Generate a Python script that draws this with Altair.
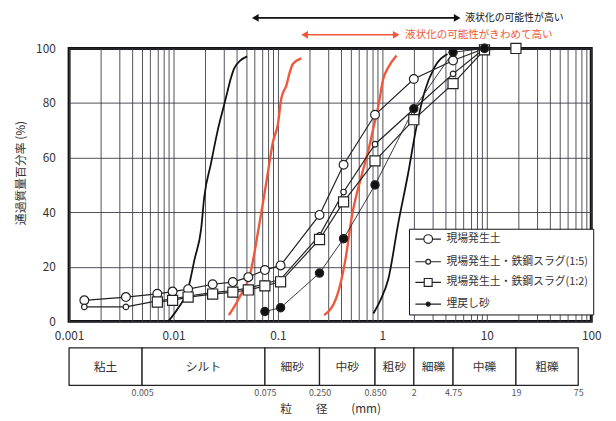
import altair as alt
import pandas as pd

# ---------------- data ----------------
SERIES = ["現場発生土", "現場発生土・鉄鋼スラグ(1:5)", "現場発生土・鉄鋼スラグ(1:2)", "埋戻し砂"]

d1 = [0.0014, 0.0035, 0.007, 0.0098, 0.0138, 0.0237, 0.037, 0.052, 0.075, 0.106, 0.25, 0.425, 0.85, 2.0, 4.75, 9.5]
p1 = [7.7, 8.9, 10.1, 10.9, 11.8, 13.6, 14.4, 16.2, 18.8, 20.5, 39.0, 57.4, 75.7, 88.8, 95.6, 100]

d2 = [0.0014, 0.0035, 0.007, 0.0098, 0.0138, 0.0237, 0.037, 0.052, 0.075, 0.106, 0.25, 0.425, 0.85, 2.0, 4.75, 9.5]
p2 = [5.3, 5.3, 7.5, 8.2, 9.3, 10.5, 11.3, 12.2, 13.8, 15.4, 31.5, 47.4, 64.9, 77.8, 90.7, 100]

d3 = [0.007, 0.0098, 0.0138, 0.0237, 0.037, 0.052, 0.075, 0.106, 0.25, 0.425, 0.85, 2.0, 4.75, 9.5, 19.0]
p3 = [7.1, 7.7, 8.9, 10.0, 10.7, 11.5, 13.0, 14.5, 30.0, 43.8, 58.8, 73.9, 87.1, 99.5, 100]

d4 = [0.075, 0.106, 0.25, 0.425, 0.85, 2.0, 4.75, 9.5]
p4 = [3.6, 5.0, 17.7, 30.3, 50.0, 77.9, 98.6, 100]

# liquefaction boundary curves
bl_d = [0.0089, 0.0110, 0.0138, 0.0159, 0.0184, 0.0197, 0.0228, 0.0264, 0.0305, 0.0328, 0.0353, 0.0379, 0.0438, 0.0507]
bl_p = [0, 4.7, 11.9, 22.7, 34.0, 45.6, 57.7, 69.7, 79.3, 84.1, 88.9, 92.5, 95.6, 97.1]
br_d = [0.82, 0.95, 1.14, 1.42, 1.76, 2.11, 2.53, 3.14, 4.2]
br_p = [2.9, 7.5, 15.5, 36.0, 54.0, 70.9, 84.0, 93.0, 98.0]
rl_d = [0.0339, 0.0438, 0.0546, 0.0650, 0.0779, 0.0900, 0.0997, 0.1077, 0.1205, 0.1298, 0.139, 0.1675]
rl_p = [2.3, 9.5, 17.9, 33.6, 51.6, 66.1, 72.1, 81.7, 86.5, 91.3, 94.3, 96.4]
rr_d = [0.277, 0.369, 0.443, 0.51, 0.638, 0.738, 0.822, 0.916, 1.02, 1.14, 1.365]
rr_p = [2.3, 9.5, 22.7, 38.4, 54.0, 63.0, 71.0, 79.0, 88.9, 93.1, 97.4]

# annotation arrows (range of liquefaction potential)
ARROW_TEXT = ["液状化の可能性が高い", "液状化の可能性がきわめて高い"]
arrow_from = [0.0607, 0.18]
arrow_to = [5.2, 1.355]
arrow_level = [111.2, 105.0]
text_at = [6.2, 1.65]

# soil classification table
SOIL = ["粘土", "シルト", "細砂", "中砂", "粗砂", "細礫", "中礫", "粗礫"]
soil_lo = [0.001, 0.005, 0.075, 0.25, 0.85, 2.0, 4.75, 19.0]
soil_hi = [0.005, 0.075, 0.25, 0.85, 2.0, 4.75, 19.0, 75.0]
BOUND_VALUES = [0.005, 0.075, 0.25, 0.85, 2, 4.75, 19, 75]
BOUND_LABELS = ["0.005", "0.075", "0.250", "0.850", "2", "4.75", "19", "75"]

DECADE_LABELS = ["0.001", "0.01", "0.1", "1", "10", "100"]
Y_TICKS = list(range(0, 101, 10))

# ---------------- tables ----------------
rows = []
for name, ds, ps in zip(SERIES, [d1, d2, d3, d4], [p1, p2, p3, p4]):
    for i, (d, p) in enumerate(zip(ds, ps)):
        rows.append({"series": name, "d": d, "p": p, "i": i})
df = pd.DataFrame(rows)

crow = []
for name, col, ds, ps in [("bl", "black", bl_d, bl_p), ("br", "black", br_d, br_p),
                          ("rl", "red", rl_d, rl_p), ("rr", "red", rr_d, rr_p)]:
    for i, (d, p) in enumerate(zip(ds, ps)):
        crow.append({"curve": name, "col": col, "d": d, "p": p, "i": i})
cdf = pd.DataFrame(crow)

adf = pd.DataFrame({"label": ARROW_TEXT, "a": arrow_from, "b": arrow_to,
                    "lev": arrow_level, "t": text_at, "kind": ["black", "red"]})
tdf = pd.DataFrame({"name": SOIL, "lo": soil_lo, "hi": soil_hi})
legdf = pd.DataFrame({"series": SERIES})

FONT = "Noto Sans CJK JP"
TXT = "#333333"
RED = "#f0583c"
RED_TXT = "#ee3b2a"
GRID = "#3c3c46"

grid_vals = [m * 10 ** e for e in range(-3, 2) for m in range(1, 10)] + [100]

xs = alt.Scale(type="log", domain=[0.001, 100], nice=False)
ys = alt.Scale(domain=[0, 100], nice=False)

x_axis = alt.Axis(values=grid_vals, grid=True, gridColor=GRID, gridWidth=0.9,
                  labelExpr="indexof(" + str(DECADE_LABELS) + ", datum.label) >= 0 ? datum.label : ''",
                  format="~g", tickSize=0, domain=False, labelPadding=9, labelFlush=False,
                  labelOverlap=False, labelBound=False, labelFontSize=12, labelFont=FONT,
                  labelColor=TXT, title=None)
y_axis = alt.Axis(values=Y_TICKS, grid=True, gridColor=GRID, gridWidth=0.9, tickSize=0,
                  domain=False, labelPadding=14, labelFontSize=12, labelFont=FONT,
                  labelColor=TXT, title="通過質量百分率 (%)", titleFont=FONT,
                  titleFontSize=12, titleFontWeight="normal", titleColor=TXT, titlePadding=8,
                  titleY=126)

X = alt.X("d:Q", scale=xs, axis=x_axis)
Y = alt.Y("p:Q", scale=ys, axis=y_axis)

base = alt.Chart(cdf)
curves_black = base.transform_filter("datum.col == 'black'").mark_line(
    color="#111111", strokeWidth=1.8, interpolate="monotone").encode(
    x=X, y=Y, detail="curve:N", order="i:Q")
curves_red = base.transform_filter("datum.col == 'red'").mark_line(
    color=RED, strokeWidth=2.4, interpolate="monotone").encode(
    x="d:Q", y="p:Q", detail="curve:N", order="i:Q")

sbase = alt.Chart(df)
lines_main = sbase.transform_filter(alt.FieldOneOfPredicate(field="series", oneOf=SERIES[:3])).mark_line(
    color="#222222", strokeWidth=1.2).encode(x="d:Q", y="p:Q", detail="series:N", order="i:Q")
lines_sand = sbase.transform_filter(alt.FieldEqualPredicate(field="series", equal=SERIES[3])).mark_line(
    color="#222222", strokeWidth=0.9).encode(x="d:Q", y="p:Q", order="i:Q")

pt_styles = [("circle", 80, "white"), ("circle", 32, "white"), ("square", 105, "white"), ("circle", 70, "#111111")]
points = []
for name, (shape, size, fill) in zip(SERIES, pt_styles):
    points.append(sbase.transform_filter(alt.FieldEqualPredicate(field="series", equal=name)).mark_point(
        shape=shape, size=size, fill=fill, fillOpacity=1, stroke="#222222", strokeWidth=1.2, opacity=1
    ).encode(x="d:Q", y="p:Q"))

# legend (line + symbol glyphs); its anchor marks sit underneath the opaque legend box
def seg_circle(r):
    return (f"M-3.25,0H-{r}M{r},0H3.25M-{r},0A{r},{r} 0 1,1 {r},0A{r},{r} 0 1,1 -{r},0Z")

legend_shapes = [seg_circle(1.1), seg_circle(0.6), "M-3.25,0H-1M1,0H3.25M-1,-1H1V1H-1Z", seg_circle(0.5)]
LEG = dict(orient="none", legendX=345, legendY=183, title=None,
           symbolSize=64, symbolOpacity=1,
           symbolStrokeWidth=1.2, symbolOffset=9, labelOffset=13,
           labelFont=FONT, labelFontSize=11, labelColor=TXT,
           rowPadding=9, padding=5, fillColor="white",
           strokeColor="#111111", labelLimit=300)
legend_layer = alt.Chart(legdf).mark_point(strokeWidth=1.2, opacity=1).encode(
    x=alt.datum(20), y=alt.datum(18),
    shape=alt.Shape("series:N", scale=alt.Scale(domain=SERIES, range=legend_shapes),
                    legend=alt.Legend(**LEG)),
    fill=alt.Fill("series:N", scale=alt.Scale(domain=SERIES, range=["white", "white", "white", "#111111"]),
                  legend=alt.Legend(**LEG)),
    stroke=alt.Stroke("series:N", scale=alt.Scale(domain=SERIES, range=["#222222"] * 4),
                      legend=alt.Legend(**LEG)),
)

# arrows and texts above the plot
cscale = alt.Scale(domain=["black", "red"], range=["#111111", RED])
abase = alt.Chart(adf)
arrows = abase.mark_rule(strokeWidth=1.6).encode(
    x="a:Q", x2="b:Q", y="lev:Q", color=alt.Color("kind:N", scale=cscale, legend=None))
head_l = abase.mark_point(shape="triangle-left", size=60, filled=True, opacity=1).encode(
    x="a:Q", y="lev:Q", color=alt.Color("kind:N", scale=cscale, legend=None))
head_r = abase.mark_point(shape="triangle-right", size=60, filled=True, opacity=1).encode(
    x="b:Q", y="lev:Q", color=alt.Color("kind:N", scale=cscale, legend=None))
atext = abase.mark_text(align="left", baseline="middle", font=FONT).encode(
    x="t:Q", y="lev:Q", text="label:N",
    size=alt.Size("kind:N", scale=alt.Scale(domain=["black", "red"], range=[10, 10.7]), legend=None),
    color=alt.Color("kind:N", scale=alt.Scale(domain=["black", "red"], range=[TXT, RED_TXT]), legend=None))

main = alt.layer(curves_black, curves_red, lines_main, lines_sand, *points,
                 arrows, head_l, head_r, atext, legend_layer).properties(
    width=530, height=277,
    view=alt.ViewBackground(stroke="#111111", strokeWidth=3))

# classification table
tx = alt.Scale(type="log", domain=[0.001, 100], nice=False)
t_axis = alt.Axis(values=BOUND_VALUES,
                  labelExpr=str(BOUND_LABELS) + "[indexof(" + str(BOUND_VALUES) + ", datum.value)]",
                  grid=False, tickSize=0, domain=False, labelPadding=3, labelFlush=False,
                  labelOverlap=False, labelFontSize=9, labelFont=FONT, labelColor="#555555",
                  title="粒　　径　　(mm)", titleFont=FONT, titleFontSize=12,
                  titleFontWeight="normal", titleColor=TXT, titlePadding=6)
tbase = alt.Chart(tdf)
trect = tbase.mark_rect(fill="white", stroke="#222222", strokeWidth=1.3).encode(
    x=alt.X("lo:Q", scale=tx, axis=t_axis), x2="hi:Q")
ttext = tbase.transform_calculate(mid="sqrt(datum.lo * datum.hi)").mark_text(
    font=FONT, fontSize=12, color=TXT).encode(x="mid:Q", text="name:N")
table = alt.layer(trect, ttext).properties(width=530, height=38,
                                           view=alt.ViewBackground(stroke=None))

chart = alt.vconcat(main, table, spacing=4).properties(
    padding={"left": 5, "top": 0, "right": 5, "bottom": 0}
).configure_view(stroke=None).configure(background="white")

chart.save("out.html", embed_options={"renderer": "svg", "actions": False})
